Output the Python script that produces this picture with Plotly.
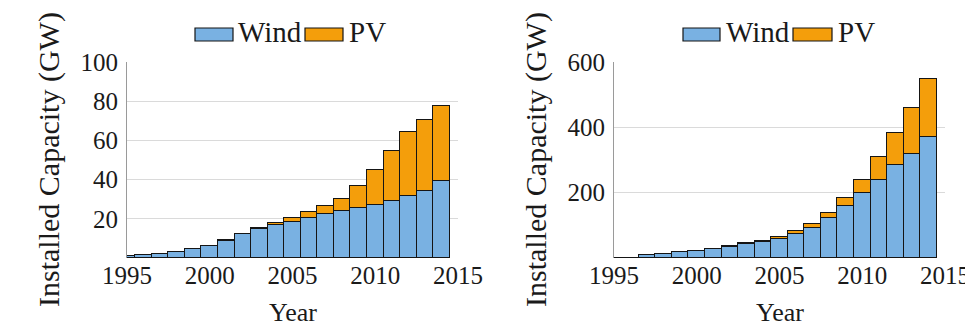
import plotly.graph_objects as go
from plotly.subplots import make_subplots

years = list(range(1995, 2015))

# Left panel (GW)
left_wind = [1.2, 1.6, 2.2, 3.0, 4.5, 6.2, 8.8, 12.1, 14.7, 16.6,
             18.4, 20.6, 22.2, 23.9, 25.7, 27.2, 29.0, 31.4, 34.3, 39.2]
left_pv = [0.0, 0.0, 0.0, 0.1, 0.1, 0.1, 0.2, 0.3, 0.4, 1.2,
           1.9, 3.1, 4.4, 6.3, 10.9, 17.9, 25.7, 33.0, 36.1, 38.1]

# Right panel (GW)
right_wind = [0.5, 0.5, 10, 13, 17, 21, 27, 35, 43, 49,
              59, 74, 93, 121, 159, 199, 239, 284, 319, 370]
right_pv = [0.0, 0.0, 0.5, 0.7, 1.0, 1.3, 1.6, 2.1, 2.8, 3.0,
            6, 8, 11, 17, 25, 40, 70, 100, 139, 178]

left_ticks = [20, 40, 60, 80, 100]
right_ticks = [200, 400, 600]
x_ticks = [1995, 2000, 2005, 2010, 2015]

WIND_COLOR = "#79B1E2"
PV_COLOR = "#F49E0B"
FONT = "Liberation Serif, Times New Roman, serif"
TXT = "#1a1a1a"

W, H = 973, 326
OFF = 8  # page body margin

fig = make_subplots(rows=1, cols=2)

for col, wind, pv in [(1, left_wind, left_pv), (2, right_wind, right_pv)]:
    fig.add_trace(go.Bar(x=years, y=wind, name="Wind", width=1,
                         marker=dict(color=WIND_COLOR, line=dict(color="#151515", width=1.2)),
                         showlegend=False), row=1, col=col)
    fig.add_trace(go.Bar(x=years, y=pv, name="PV", width=1,
                         marker=dict(color=PV_COLOR, line=dict(color="#151515", width=1.2)),
                         showlegend=False), row=1, col=col)

def px_x(p):
    return (p - OFF) / W

def px_y(p):
    return (H - (p - OFF)) / H

ydom = [px_y(258), px_y(62)]
fig.update_layout(
    width=W, height=H, margin=dict(l=0, r=0, t=0, b=0, pad=0, autoexpand=False),
    autosize=False,
    paper_bgcolor="white", plot_bgcolor="white",
    barmode="stack", bargap=0, showlegend=False,
    font=dict(family=FONT, color=TXT, size=25),
    xaxis=dict(domain=[px_x(127), px_x(458)]),
    xaxis2=dict(domain=[px_x(614), px_x(945)]),
    yaxis=dict(domain=ydom),
    yaxis2=dict(domain=ydom),
)

for ax in ["xaxis", "xaxis2"]:
    fig.layout[ax].update(range=[1995, 2015], tickvals=x_ticks, ticks="inside",
                          ticklen=8, tickcolor="#c8c8c8", tickwidth=1,
                          showline=False, showgrid=False, zeroline=False,
                          layer="below traces", ticklabelstandoff=0, automargin=False,
                          tickfont=dict(size=25, family=FONT, color=TXT))

fig.layout.yaxis.update(range=[0, 100], tickvals=left_ticks)
fig.layout.yaxis2.update(range=[0, 600], tickvals=right_ticks)
for ax in ["yaxis", "yaxis2"]:
    fig.layout[ax].update(showgrid=True, gridcolor="#dadada", gridwidth=1,
                          showline=True, linecolor="#9a9a9a", linewidth=1,
                          zeroline=False, ticks="", layer="below traces",
                          ticklabelstandoff=3, automargin=False,
                          tickfont=dict(size=25, family=FONT, color=TXT))

annotations = []
shapes = []
for ytx, xc in [(49, 292.5), (536, 779.5)]:
    annotations.append(dict(text="Installed Capacity (GW)", x=px_x(ytx), y=px_y(160),
                            xref="paper", yref="paper", showarrow=False, textangle=-90,
                            xanchor="center", yanchor="middle",
                            font=dict(size=30, family=FONT, color=TXT)))
    annotations.append(dict(text="Year", x=px_x(xc), y=px_y(312),
                            xref="paper", yref="paper", showarrow=False,
                            xanchor="center", yanchor="middle",
                            font=dict(size=26, family=FONT, color=TXT)))

# legends (one per panel)
for (wx0, wx1, wtx, px0, px1, ptx) in [(195, 233, 236, 305, 343, 347),
                                        (683, 720, 724, 793, 832, 836)]:
    for x0, x1, c in [(wx0, wx1, WIND_COLOR), (px0, px1, PV_COLOR)]:
        shapes.append(dict(type="rect", xref="paper", yref="paper",
                           x0=px_x(x0), x1=px_x(x1), y0=px_y(41), y1=px_y(28),
                           fillcolor=c, line=dict(color="#151515", width=1.2)))
    for t, tx in [("Wind", wtx), ("PV", ptx)]:
        annotations.append(dict(text=t, x=px_x(tx), y=px_y(32), xref="paper", yref="paper",
                                showarrow=False, xanchor="left", yanchor="middle",
                                font=dict(size=29, family=FONT, color=TXT)))

fig.update_layout(annotations=annotations, shapes=shapes)

fig.write_html("out.html")
